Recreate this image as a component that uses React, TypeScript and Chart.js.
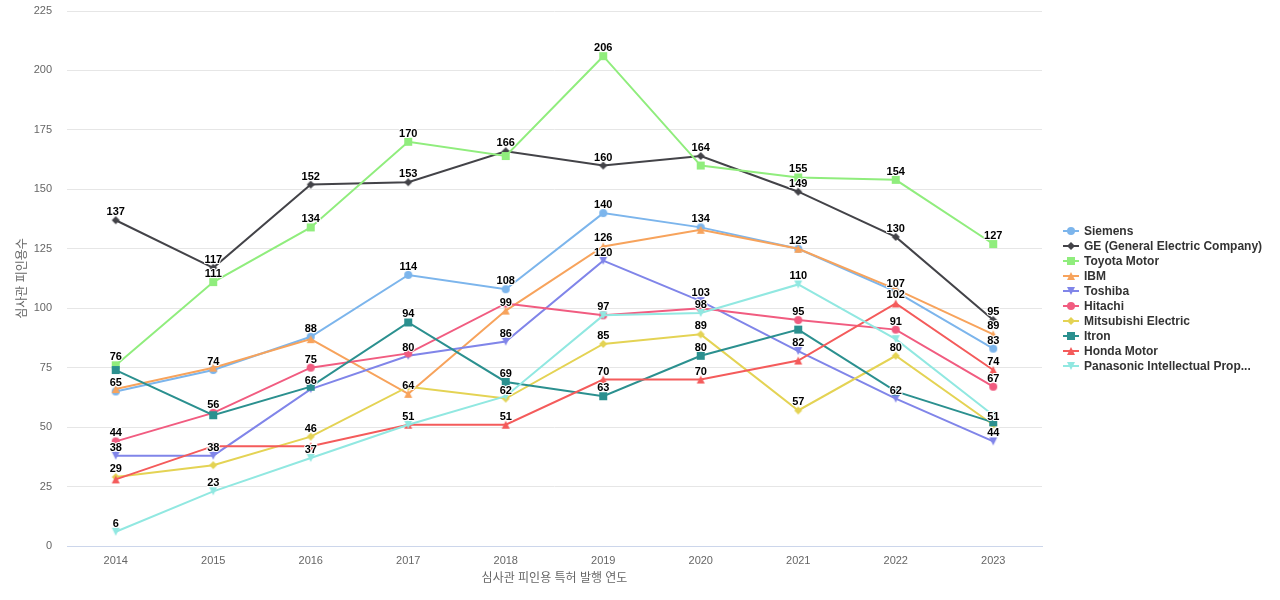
import React, { useEffect, useRef } from 'react';
import { Chart, registerables } from 'chart.js';

Chart.register(...registerables);

const years = ['2014', '2015', '2016', '2017', '2018', '2019', '2020', '2021', '2022', '2023'];
const seriesNames = [
  'Siemens',
  'GE (General Electric Company)',
  'Toyota Motor',
  'IBM',
  'Toshiba',
  'Hitachi',
  'Mitsubishi Electric',
  'Itron',
  'Honda Motor',
  'Panasonic Intellectual Prop...',
];
const siemens = [65, 74, 88, 114, 108, 140, 134, 125, 107, 83];
const ge = [137, 117, 152, 153, 166, 160, 164, 149, 130, 95];
const toyota = [76, 111, 134, 170, 164, 206, 160, 155, 154, 127];
const ibm = [66, 75, 87, 64, 99, 126, 133, 125, 108, 89];
const toshiba = [38, 38, 66, 80, 86, 120, 103, 82, 62, 44];
const hitachi = [44, 56, 75, 81, 102, 97, 100, 95, 91, 67];
const mitsubishi = [29, 34, 46, 67, 62, 85, 89, 57, 80, 51];
const itron = [74, 55, 67, 94, 69, 63, 80, 91, 65, 52];
const honda = [28, 42, 42, 51, 51, 70, 70, 78, 102, 74];
const panasonic = [6, 23, 37, 51, 63, 97, 98, 110, 87, 55];

const seriesValues = [siemens, ge, toyota, ibm, toshiba, hitachi, mitsubishi, itron, honda, panasonic];
const colors = ['#7cb5ec', '#434348', '#90ed7d', '#f7a35c', '#8085e9', '#f15c80', '#e4d354', '#2b908f', '#f45b5b', '#91e8e1'];
const shapes = ['circle', 'diamond', 'square', 'triangle', 'triangle-down', 'circle', 'diamond', 'square', 'triangle', 'triangle-down'];

const yTitle = '심사관 피인용수';
const xTitle = '심사관 피인용 특허 발행 연도';

const FONT = '"Liberation Sans", Arial, "Noto Sans CJK KR", sans-serif';

function drawShape(ctx: CanvasRenderingContext2D, shape: string, x: number, y: number, color: string) {
  const r = 4;
  ctx.fillStyle = color;
  ctx.beginPath();
  if (shape === 'circle') {
    ctx.arc(x, y, r, 0, Math.PI * 2);
  } else if (shape === 'square') {
    ctx.rect(x - r, y - r, 2 * r, 2 * r);
  } else if (shape === 'diamond') {
    ctx.moveTo(x, y - r);
    ctx.lineTo(x + r, y);
    ctx.lineTo(x, y + r);
    ctx.lineTo(x - r, y);
    ctx.closePath();
  } else if (shape === 'triangle') {
    ctx.moveTo(x, y - r);
    ctx.lineTo(x + r, y + r);
    ctx.lineTo(x - r, y + r);
    ctx.closePath();
  } else {
    ctx.moveTo(x - r, y - r);
    ctx.lineTo(x + r, y - r);
    ctx.lineTo(x, y + r);
    ctx.closePath();
  }
  ctx.fill();
}

function makeMarker(shape: string, color: string): HTMLCanvasElement {
  const c = document.createElement('canvas');
  c.width = 10;
  c.height = 10;
  const ctx = c.getContext('2d')!;
  drawShape(ctx, shape, 5, 5, color);
  return c;
}

const labelPlugin = {
  id: 'valueLabels',
  afterDatasetsDraw(chart: any) {
    const ctx: CanvasRenderingContext2D = chart.ctx;
    ctx.save();
    ctx.font = 'bold 11px ' + FONT;
    ctx.textAlign = 'center';
    ctx.textBaseline = 'alphabetic';
    ctx.lineJoin = 'round';
    const placed: { x1: number; x2: number; y1: number; y2: number }[] = [];
    chart.data.datasets.forEach((ds: any, i: number) => {
      const meta = chart.getDatasetMeta(i);
      meta.data.forEach((pt: any, j: number) => {
        const t = String(ds.data[j]);
        const w = ctx.measureText(t).width;
        const cy = pt.y - 9.5;
        const box = { x1: pt.x - w / 2 - 2, x2: pt.x + w / 2 + 2, y1: cy - 5.5, y2: cy + 5.5 };
        if (placed.some((b) => b.x1 < box.x2 && box.x1 < b.x2 && b.y1 < box.y2 && box.y1 < b.y2)) return;
        placed.push(box);
        ctx.lineWidth = 2;
        ctx.strokeStyle = '#ffffff';
        ctx.strokeText(t, pt.x, pt.y - 5);
        ctx.fillStyle = '#000000';
        ctx.fillText(t, pt.x, pt.y - 5);
      });
    });
    ctx.restore();
  },
};

const legendPlugin = {
  id: 'sideLegend',
  afterDraw(chart: any) {
    const ctx: CanvasRenderingContext2D = chart.ctx;
    ctx.save();
    ctx.font = 'bold 12px ' + FONT;
    ctx.textAlign = 'left';
    ctx.textBaseline = 'middle';
    seriesNames.forEach((name, i) => {
      const y = 231 + i * 15;
      ctx.strokeStyle = colors[i];
      ctx.lineWidth = 2;
      ctx.beginPath();
      ctx.moveTo(1063, y);
      ctx.lineTo(1079, y);
      ctx.stroke();
      drawShape(ctx, shapes[i], 1071, y, colors[i]);
      ctx.fillStyle = '#333333';
      ctx.fillText(name, 1084, y + 0.5);
    });
    ctx.restore();
  },
};

export default function App() {
  const ref = useRef<HTMLCanvasElement>(null);

  useEffect(() => {
    const canvas = ref.current;
    if (!canvas) return;
    const datasets = seriesNames.map((name, i) => ({
      label: name,
      data: seriesValues[i],
      borderColor: colors[i],
      backgroundColor: colors[i],
      borderWidth: 2,
      pointStyle: makeMarker(shapes[i], colors[i]) as any,
      pointRadius: 4,
      pointHoverRadius: 4,
      tension: 0,
      fill: false,
      clip: false,
      order: -i,
    }));

    const chart = new Chart(canvas, {
      type: 'line',
      data: { labels: years, datasets },
      options: {
        responsive: false,
        animation: false,
        devicePixelRatio: 1,
        layout: { padding: { left: 0, right: 238, top: 11, bottom: 0 } },
        plugins: {
          legend: { display: false },
          tooltip: { enabled: false },
        },
        scales: {
          x: {
            type: 'category',
            offset: true,
            grid: { display: false, drawTicks: false },
            border: { display: true, color: '#ccd6eb', width: 1 },
            ticks: { color: '#666666', font: { family: FONT, size: 11 }, padding: 8, maxRotation: 0 },
            title: {
              display: true,
              text: xTitle,
              color: '#666666',
              font: { family: FONT, size: 12 },
              padding: { top: 0, bottom: 14 },
            },
            afterFit: (scale: any) => {
              scale.height = 54;
              scale.paddingTop = 0;
              scale.paddingBottom = 0;
            },
          },
          y: {
            min: 0,
            max: 225,
            ticks: { stepSize: 25, color: '#666666', font: { family: FONT, size: 11 }, padding: 15 },
            grid: { color: '#e6e6e6', drawTicks: false },
            border: { display: false },
            title: {
              display: true,
              text: yTitle,
              color: '#666666',
              font: { family: FONT, size: 12 },
              padding: { top: 15, bottom: 0 },
            },
            afterFit: (scale: any) => {
              scale.width = 67;
              scale.paddingTop = 0;
              scale.paddingBottom = 0;
            },
          },
        },
      },
      plugins: [labelPlugin, legendPlugin],
    } as any);

    return () => {
      chart.destroy();
    };
  }, []);

  return (
    <div style={{ position: 'fixed', left: 0, top: 0, width: 1280, height: 600, background: '#ffffff' }}>
      <canvas ref={ref} width={1280} height={600} style={{ display: 'block' }} />
    </div>
  );
}
